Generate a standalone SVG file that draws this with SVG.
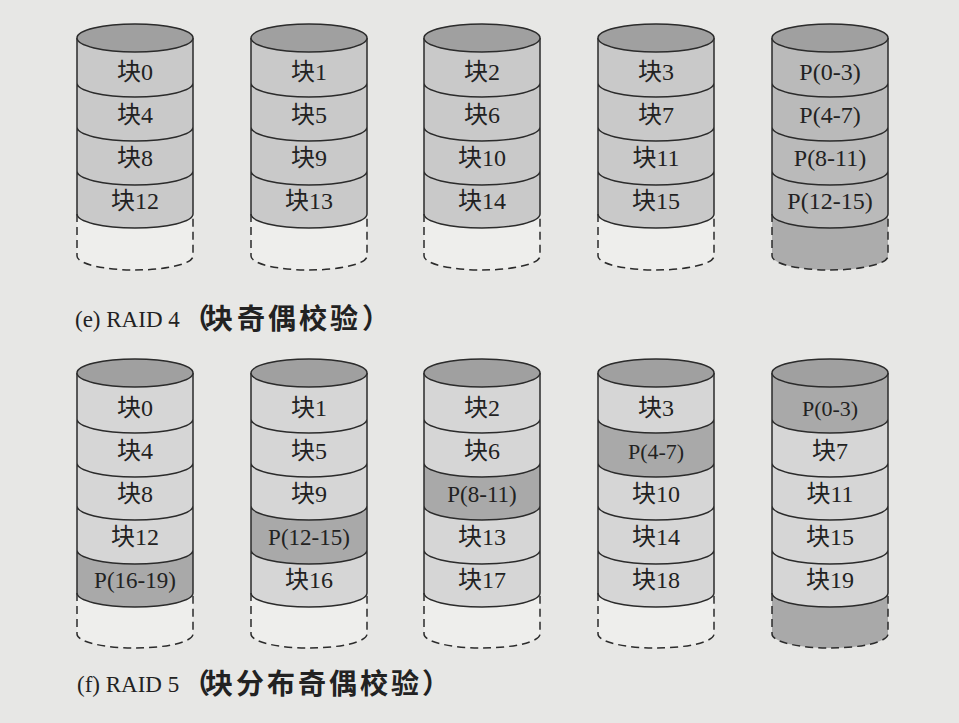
<svg xmlns="http://www.w3.org/2000/svg" xmlns:xlink="http://www.w3.org/1999/xlink" width="959" height="723" viewBox="0 0 959 723">
<style>
.bg{fill:#e7e7e5}
.top{fill:#a0a0a0;stroke:#2b2b2b;stroke-width:1.5}
.d4{fill:#c9c9c9}
.p4{fill:#bababa}
.d5{fill:#d6d6d6}
.p5{fill:#a9a9a9}
.empty{fill:#eeeeec}
.dark{fill:#acacac}
.ln{fill:none;stroke:#2b2b2b;stroke-width:1.5}
.dash{fill:none;stroke:#2b2b2b;stroke-width:1.5;stroke-dasharray:8 5}
.t{font-family:"Liberation Serif","Noto Sans CJK SC",serif;font-size:24px;fill:#222;text-anchor:middle}
.cap{font-family:"Liberation Serif","Noto Sans CJK SC",serif;font-size:23px;fill:#222}
.capz{font-family:"Noto Sans CJK SC",sans-serif;font-size:28px;font-weight:bold;fill:#222}
</style>
<defs>
<path id="r4b1" d="M0,38A58,14 0 0 0 116,38L116,83A58,14 0 0 1 0,83Z"/>
<path id="r4b2" d="M0,83A58,14 0 0 0 116,83L116,127A58,14 0 0 1 0,127Z"/>
<path id="r4b3" d="M0,127A58,14 0 0 0 116,127L116,171A58,14 0 0 1 0,171Z"/>
<path id="r4b4" d="M0,171A58,14 0 0 0 116,171L116,214A58,14 0 0 1 0,214Z"/>
<path id="r4b5" d="M0,214A58,14 0 0 0 116,214L116,256A58,14 0 0 1 0,256Z"/>
<path id="r4ln" d="M0,38V214M116,38V214M0,83A58,14 0 0 0 116,83M0,127A58,14 0 0 0 116,127M0,171A58,14 0 0 0 116,171M0,214A58,14 0 0 0 116,214"/>
<path id="r4da" d="M0,214V256A58,14 0 0 0 116,256V214"/>
<ellipse id="r4top" cx="58" cy="38" rx="58" ry="14"/>
<path id="r5b1" d="M0,373A58,14 0 0 0 116,373L116,419A58,14 0 0 1 0,419Z"/>
<path id="r5b2" d="M0,419A58,14 0 0 0 116,419L116,463A58,14 0 0 1 0,463Z"/>
<path id="r5b3" d="M0,463A58,14 0 0 0 116,463L116,506A58,14 0 0 1 0,506Z"/>
<path id="r5b4" d="M0,506A58,14 0 0 0 116,506L116,550A58,14 0 0 1 0,550Z"/>
<path id="r5b5" d="M0,550A58,14 0 0 0 116,550L116,593A58,14 0 0 1 0,593Z"/>
<path id="r5b6" d="M0,593A58,14 0 0 0 116,593L116,634A58,14 0 0 1 0,634Z"/>
<path id="r5ln" d="M0,373V593M116,373V593M0,419A58,14 0 0 0 116,419M0,463A58,14 0 0 0 116,463M0,506A58,14 0 0 0 116,506M0,550A58,14 0 0 0 116,550M0,593A58,14 0 0 0 116,593"/>
<path id="r5da" d="M0,593V634A58,14 0 0 0 116,634V593"/>
<ellipse id="r5top" cx="58" cy="373" rx="58" ry="14"/>
</defs>
<rect class="bg" x="0" y="0" width="959" height="723"/>
<g id="connectors"></g>

<g id="raid4-disk0" transform="translate(77,0)">
<use href="#r4b1" class="d4"/><use href="#r4b2" class="d4"/><use href="#r4b3" class="d4"/><use href="#r4b4" class="d4"/><use href="#r4b5" class="empty"/>
<use href="#r4ln" class="ln"/><use href="#r4da" class="dash"/><use href="#r4top" class="top"/>
<text class="t" x="58" y="80">块0</text><text class="t" x="58" y="123">块4</text><text class="t" x="58" y="166">块8</text><text class="t" x="58" y="209">块12</text>
</g>
<g id="raid4-disk1" transform="translate(251,0)">
<use href="#r4b1" class="d4"/><use href="#r4b2" class="d4"/><use href="#r4b3" class="d4"/><use href="#r4b4" class="d4"/><use href="#r4b5" class="empty"/>
<use href="#r4ln" class="ln"/><use href="#r4da" class="dash"/><use href="#r4top" class="top"/>
<text class="t" x="58" y="80">块1</text><text class="t" x="58" y="123">块5</text><text class="t" x="58" y="166">块9</text><text class="t" x="58" y="209">块13</text>
</g>
<g id="raid4-disk2" transform="translate(424,0)">
<use href="#r4b1" class="d4"/><use href="#r4b2" class="d4"/><use href="#r4b3" class="d4"/><use href="#r4b4" class="d4"/><use href="#r4b5" class="empty"/>
<use href="#r4ln" class="ln"/><use href="#r4da" class="dash"/><use href="#r4top" class="top"/>
<text class="t" x="58" y="80">块2</text><text class="t" x="58" y="123">块6</text><text class="t" x="58" y="166">块10</text><text class="t" x="58" y="209">块14</text>
</g>
<g id="raid4-disk3" transform="translate(598,0)">
<use href="#r4b1" class="d4"/><use href="#r4b2" class="d4"/><use href="#r4b3" class="d4"/><use href="#r4b4" class="d4"/><use href="#r4b5" class="empty"/>
<use href="#r4ln" class="ln"/><use href="#r4da" class="dash"/><use href="#r4top" class="top"/>
<text class="t" x="58" y="80">块3</text><text class="t" x="58" y="123">块7</text><text class="t" x="58" y="166">块11</text><text class="t" x="58" y="209">块15</text>
</g>
<g id="raid4-parity" transform="translate(772,0)">
<use href="#r4b1" class="p4"/><use href="#r4b2" class="p4"/><use href="#r4b3" class="p4"/><use href="#r4b4" class="p4"/><use href="#r4b5" class="dark"/>
<use href="#r4ln" class="ln"/><use href="#r4da" class="dash"/><use href="#r4top" class="top"/>
<text class="t" x="58" y="80">P(0-3)</text><text class="t" x="58" y="123">P(4-7)</text><text class="t" x="58" y="166">P(8-11)</text><text class="t" x="58" y="209">P(12-15)</text>
</g>
<g id="caption-e">
<text class="cap" x="75" y="327">(e) RAID 4</text>
<text class="capz" x="182 205 237 268 299 330 362" y="329">（块奇偶校验）</text>
</g>

<g id="raid5-disk0" transform="translate(77,0)">
<use href="#r5b1" class="d5"/><use href="#r5b2" class="d5"/><use href="#r5b3" class="d5"/><use href="#r5b4" class="d5"/><use href="#r5b5" class="p5"/><use href="#r5b6" class="empty"/>
<use href="#r5ln" class="ln"/><use href="#r5da" class="dash"/><use href="#r5top" class="top"/>
<text class="t" x="58" y="416">块0</text><text class="t" x="58" y="459">块4</text><text class="t" x="58" y="502">块8</text><text class="t" x="58" y="545">块12</text><text class="t" x="58" y="588" style="font-size:23px">P(16-19)</text>
</g>
<g id="raid5-disk1" transform="translate(251,0)">
<use href="#r5b1" class="d5"/><use href="#r5b2" class="d5"/><use href="#r5b3" class="d5"/><use href="#r5b4" class="p5"/><use href="#r5b5" class="d5"/><use href="#r5b6" class="empty"/>
<use href="#r5ln" class="ln"/><use href="#r5da" class="dash"/><use href="#r5top" class="top"/>
<text class="t" x="58" y="416">块1</text><text class="t" x="58" y="459">块5</text><text class="t" x="58" y="502">块9</text><text class="t" x="58" y="545" style="font-size:23px">P(12-15)</text><text class="t" x="58" y="588">块16</text>
</g>
<g id="raid5-disk2" transform="translate(424,0)">
<use href="#r5b1" class="d5"/><use href="#r5b2" class="d5"/><use href="#r5b3" class="p5"/><use href="#r5b4" class="d5"/><use href="#r5b5" class="d5"/><use href="#r5b6" class="empty"/>
<use href="#r5ln" class="ln"/><use href="#r5da" class="dash"/><use href="#r5top" class="top"/>
<text class="t" x="58" y="416">块2</text><text class="t" x="58" y="459">块6</text><text class="t" x="58" y="502" style="font-size:23px">P(8-11)</text><text class="t" x="58" y="545">块13</text><text class="t" x="58" y="588">块17</text>
</g>
<g id="raid5-disk3" transform="translate(598,0)">
<use href="#r5b1" class="d5"/><use href="#r5b2" class="p5"/><use href="#r5b3" class="d5"/><use href="#r5b4" class="d5"/><use href="#r5b5" class="d5"/><use href="#r5b6" class="empty"/>
<use href="#r5ln" class="ln"/><use href="#r5da" class="dash"/><use href="#r5top" class="top"/>
<text class="t" x="58" y="416">块3</text><text class="t" x="58" y="459" style="font-size:22px">P(4-7)</text><text class="t" x="58" y="502">块10</text><text class="t" x="58" y="545">块14</text><text class="t" x="58" y="588">块18</text>
</g>
<g id="raid5-disk4" transform="translate(772,0)">
<use href="#r5b1" class="p5"/><use href="#r5b2" class="d5"/><use href="#r5b3" class="d5"/><use href="#r5b4" class="d5"/><use href="#r5b5" class="d5"/><use href="#r5b6" class="p5"/>
<use href="#r5ln" class="ln"/><use href="#r5da" class="dash"/><use href="#r5top" class="top"/>
<text class="t" x="58" y="416" style="font-size:22px">P(0-3)</text><text class="t" x="58" y="459">块7</text><text class="t" x="58" y="502">块11</text><text class="t" x="58" y="545">块15</text><text class="t" x="58" y="588">块19</text>
</g>
<g id="caption-f">
<text class="cap" x="77" y="692">(f) RAID 5</text>
<text class="capz" x="182 205 236 267 298 329 360 391 422" y="694">（块分布奇偶校验）</text>
</g>
</svg>
